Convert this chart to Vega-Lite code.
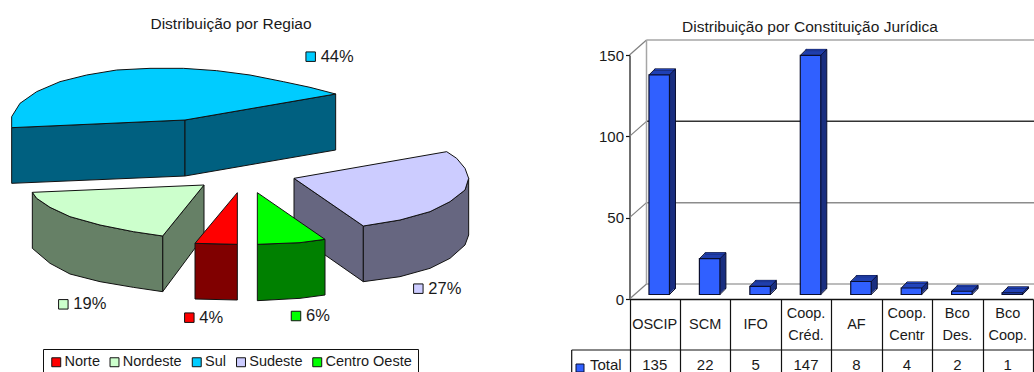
{
  "$schema": "https://vega.github.io/schema/vega-lite/v6.json",
  "autosize": {"type": "pad"},
  "padding": 0,
  "bounds": "flush",
  "spacing": 0,
  "background": "white",
  "config": {"view": {"stroke": null}, "font": "Liberation Sans"},
  "datasets": {
    "regioes": [
      {"regiao": "Sul", "pct": 0.44, "u": 932, "v": 170},
      {"regiao": "Nordeste", "pct": 0.19, "u": 190, "v": 913},
      {"regiao": "Norte", "pct": 0.04, "u": 568, "v": 953},
      {"regiao": "Sudeste", "pct": 0.27, "u": 1255, "v": 866},
      {"regiao": "Centro Oeste", "pct": 0.06, "u": 888, "v": 948}
    ],
    "pizza": [
      {"face": "sul-a", "cor": "Sul lateral", "u": 35, "v": 383},
      {"face": "sul-a", "cor": "Sul lateral", "u": 555, "v": 360},
      {"face": "sul-a", "cor": "Sul lateral", "u": 555, "v": 528},
      {"face": "sul-a", "cor": "Sul lateral", "u": 35, "v": 550},
      {"face": "sul-b", "cor": "Sul lateral", "u": 555, "v": 360},
      {"face": "sul-b", "cor": "Sul lateral", "u": 1007, "v": 282},
      {"face": "sul-b", "cor": "Sul lateral", "u": 1007, "v": 450},
      {"face": "sul-b", "cor": "Sul lateral", "u": 555, "v": 528},
      {"face": "sul-c", "cor": "Sul", "u": 35, "v": 383},
      {"face": "sul-c", "cor": "Sul", "u": 35, "v": 350},
      {"face": "sul-c", "cor": "Sul", "u": 60, "v": 310},
      {"face": "sul-c", "cor": "Sul", "u": 110, "v": 275},
      {"face": "sul-c", "cor": "Sul", "u": 180, "v": 245},
      {"face": "sul-c", "cor": "Sul", "u": 260, "v": 225},
      {"face": "sul-c", "cor": "Sul", "u": 350, "v": 210},
      {"face": "sul-c", "cor": "Sul", "u": 450, "v": 205},
      {"face": "sul-c", "cor": "Sul", "u": 550, "v": 205},
      {"face": "sul-c", "cor": "Sul", "u": 650, "v": 212},
      {"face": "sul-c", "cor": "Sul", "u": 750, "v": 225},
      {"face": "sul-c", "cor": "Sul", "u": 850, "v": 245},
      {"face": "sul-c", "cor": "Sul", "u": 930, "v": 262},
      {"face": "sul-c", "cor": "Sul", "u": 1007, "v": 282},
      {"face": "sul-c", "cor": "Sul", "u": 555, "v": 360},
      {"face": "ne-a", "cor": "Nordeste lateral", "u": 488, "v": 708},
      {"face": "ne-a", "cor": "Nordeste lateral", "u": 612, "v": 555},
      {"face": "ne-a", "cor": "Nordeste lateral", "u": 612, "v": 708},
      {"face": "ne-a", "cor": "Nordeste lateral", "u": 488, "v": 875},
      {"face": "ne-b", "cor": "Nordeste lateral", "u": 97, "v": 577},
      {"face": "ne-b", "cor": "Nordeste lateral", "u": 110, "v": 595},
      {"face": "ne-b", "cor": "Nordeste lateral", "u": 150, "v": 622},
      {"face": "ne-b", "cor": "Nordeste lateral", "u": 210, "v": 650},
      {"face": "ne-b", "cor": "Nordeste lateral", "u": 300, "v": 675},
      {"face": "ne-b", "cor": "Nordeste lateral", "u": 400, "v": 695},
      {"face": "ne-b", "cor": "Nordeste lateral", "u": 488, "v": 708},
      {"face": "ne-b", "cor": "Nordeste lateral", "u": 488, "v": 875},
      {"face": "ne-b", "cor": "Nordeste lateral", "u": 400, "v": 862},
      {"face": "ne-b", "cor": "Nordeste lateral", "u": 300, "v": 845},
      {"face": "ne-b", "cor": "Nordeste lateral", "u": 210, "v": 822},
      {"face": "ne-b", "cor": "Nordeste lateral", "u": 150, "v": 790},
      {"face": "ne-b", "cor": "Nordeste lateral", "u": 97, "v": 745},
      {"face": "ne-c", "cor": "Nordeste", "u": 97, "v": 577},
      {"face": "ne-c", "cor": "Nordeste", "u": 612, "v": 555},
      {"face": "ne-c", "cor": "Nordeste", "u": 488, "v": 708},
      {"face": "ne-c", "cor": "Nordeste", "u": 400, "v": 695},
      {"face": "ne-c", "cor": "Nordeste", "u": 300, "v": 675},
      {"face": "ne-c", "cor": "Nordeste", "u": 210, "v": 650},
      {"face": "ne-c", "cor": "Nordeste", "u": 150, "v": 622},
      {"face": "ne-c", "cor": "Nordeste", "u": 110, "v": 595},
      {"face": "se-a", "cor": "Sudeste lateral", "u": 882, "v": 535},
      {"face": "se-a", "cor": "Sudeste lateral", "u": 1090, "v": 678},
      {"face": "se-a", "cor": "Sudeste lateral", "u": 1090, "v": 845},
      {"face": "se-a", "cor": "Sudeste lateral", "u": 882, "v": 700},
      {"face": "se-b", "cor": "Sudeste lateral", "u": 1090, "v": 678},
      {"face": "se-b", "cor": "Sudeste lateral", "u": 1200, "v": 660},
      {"face": "se-b", "cor": "Sudeste lateral", "u": 1290, "v": 635},
      {"face": "se-b", "cor": "Sudeste lateral", "u": 1350, "v": 605},
      {"face": "se-b", "cor": "Sudeste lateral", "u": 1395, "v": 570},
      {"face": "se-b", "cor": "Sudeste lateral", "u": 1406, "v": 535},
      {"face": "se-b", "cor": "Sudeste lateral", "u": 1406, "v": 705},
      {"face": "se-b", "cor": "Sudeste lateral", "u": 1395, "v": 735},
      {"face": "se-b", "cor": "Sudeste lateral", "u": 1350, "v": 775},
      {"face": "se-b", "cor": "Sudeste lateral", "u": 1290, "v": 805},
      {"face": "se-b", "cor": "Sudeste lateral", "u": 1200, "v": 830},
      {"face": "se-b", "cor": "Sudeste lateral", "u": 1090, "v": 845},
      {"face": "se-c", "cor": "Sudeste", "u": 882, "v": 535},
      {"face": "se-c", "cor": "Sudeste", "u": 1340, "v": 455},
      {"face": "se-c", "cor": "Sudeste", "u": 1370, "v": 475},
      {"face": "se-c", "cor": "Sudeste", "u": 1395, "v": 505},
      {"face": "se-c", "cor": "Sudeste", "u": 1406, "v": 535},
      {"face": "se-c", "cor": "Sudeste", "u": 1395, "v": 570},
      {"face": "se-c", "cor": "Sudeste", "u": 1350, "v": 605},
      {"face": "se-c", "cor": "Sudeste", "u": 1290, "v": 635},
      {"face": "se-c", "cor": "Sudeste", "u": 1200, "v": 660},
      {"face": "se-c", "cor": "Sudeste", "u": 1090, "v": 678},
      {"face": "no-a", "cor": "Norte lateral", "u": 585, "v": 730},
      {"face": "no-a", "cor": "Norte lateral", "u": 712, "v": 733},
      {"face": "no-a", "cor": "Norte lateral", "u": 712, "v": 900},
      {"face": "no-a", "cor": "Norte lateral", "u": 585, "v": 897},
      {"face": "no-b", "cor": "Norte", "u": 712, "v": 578},
      {"face": "no-b", "cor": "Norte", "u": 712, "v": 733},
      {"face": "no-b", "cor": "Norte", "u": 585, "v": 730},
      {"face": "co-a", "cor": "Centro Oeste lateral", "u": 772, "v": 733},
      {"face": "co-a", "cor": "Centro Oeste lateral", "u": 900, "v": 728},
      {"face": "co-a", "cor": "Centro Oeste lateral", "u": 975, "v": 718},
      {"face": "co-a", "cor": "Centro Oeste lateral", "u": 975, "v": 885},
      {"face": "co-a", "cor": "Centro Oeste lateral", "u": 900, "v": 895},
      {"face": "co-a", "cor": "Centro Oeste lateral", "u": 772, "v": 902},
      {"face": "co-b", "cor": "Centro Oeste", "u": 772, "v": 578},
      {"face": "co-b", "cor": "Centro Oeste", "u": 975, "v": 718},
      {"face": "co-b", "cor": "Centro Oeste", "u": 900, "v": 728},
      {"face": "co-b", "cor": "Centro Oeste", "u": 772, "v": 733}
    ],
    "juridica": [
      {"categoria": "OSCIP", "total": 135},
      {"categoria": "SCM", "total": 22},
      {"categoria": "IFO", "total": 5},
      {"categoria": "Coop. Créd.", "total": 147},
      {"categoria": "AF", "total": 8},
      {"categoria": "Coop. Centr", "total": 4},
      {"categoria": "Bco Des.", "total": 2},
      {"categoria": "Bco Coop.", "total": 1}
    ],
    "grade": [
      {"nivel": 0, "cor": "#a6a6a6"},
      {"nivel": 50, "cor": "#8c8c8c"},
      {"nivel": 100, "cor": "#333333"},
      {"nivel": 150, "cor": "#a6a6a6"}
    ],
    "linha_total": [{"nome": "Total", "categoria": "OSCIP", "total": 0}]
  },
  "hconcat": [
    {
      "width": 560,
      "height": 372,
      "title": {"text": "Distribuição por Regiao", "anchor": "middle", "frame": "group", "offset": 0, "dx": -49, "dy": 32, "fontSize": 15.5, "fontWeight": "normal", "font": "Liberation Sans", "color": "#1a1a1a"},
      "encoding": {
        "x": {"field": "u", "type": "quantitative", "scale": {"domain": [0, 1680], "range": [0, 560], "nice": false, "zero": false}, "axis": null},
        "y": {"field": "v", "type": "quantitative", "scale": {"domain": [0, 1116], "range": [0, 372], "nice": false, "zero": false}, "axis": null}
      },
      "layer": [
        {
          "data": {"name": "pizza"},
          "transform": [{"window": [{"op": "row_number", "as": "n"}]}],
          "mark": {"type": "line", "interpolate": "linear-closed", "stroke": "#111111", "strokeWidth": 1},
          "encoding": {
            "detail": {"field": "face"},
            "order": {"field": "n", "type": "quantitative"},
            "fill": {
              "field": "cor",
              "type": "nominal",
              "scale": {
                "domain": ["Norte", "Nordeste", "Sul", "Sudeste", "Centro Oeste", "Norte lateral", "Nordeste lateral", "Sul lateral", "Sudeste lateral", "Centro Oeste lateral"],
                "range": ["#ff0000", "#ccffcc", "#00ccff", "#ccccff", "#00ff00", "#800000", "#668066", "#006080", "#666680", "#008000"]
              }
            }
          }
        },
        {
          "data": {"name": "regioes"},
          "mark": {"type": "square", "size": 90, "opacity": 1, "stroke": "#111111", "strokeWidth": 1},
          "encoding": {
            "fill": {
              "field": "regiao",
              "type": "nominal",
              "legend": {
                "values": ["Norte", "Nordeste", "Sul", "Sudeste", "Centro Oeste"],
                "title": null,
                "orient": "none",
                "legendX": 43,
                "legendY": 349,
                "direction": "horizontal",
                "columns": 5,
                "gridAlign": "none",
                "columnPadding": 7.25,
                "padding": 6,
                "strokeColor": "#111111",
                "fillColor": "#ffffff",
                "labelFont": "Liberation Sans",
                "labelFontSize": 14.5,
                "labelColor": "#1a1a1a",
                "labelOffset": 1,
                "symbolType": "square",
                "symbolSize": 80,
                "symbolStrokeColor": "#111111",
                "symbolStrokeWidth": 1
              }
            }
          }
        },
        {
          "data": {"name": "regioes"},
          "mark": {"type": "text", "align": "left", "baseline": "middle", "dx": 10, "fontSize": 16.5, "color": "#1a1a1a"},
          "encoding": {"text": {"field": "pct", "type": "quantitative", "format": ".0%"}}
        }
      ]
    },
    {
      "width": 474,
      "height": 372,
      "title": {"text": "Distribuição por Constituição Jurídica", "anchor": "middle", "frame": "group", "offset": 0, "dx": 13, "dy": 35, "fontSize": 15.5, "fontWeight": "normal", "font": "Liberation Sans", "color": "#1a1a1a"},
      "data": {"name": "juridica"},
      "encoding": {
        "x": {
          "field": "categoria",
          "type": "nominal",
          "sort": null,
          "scale": {"type": "band", "domain": ["OSCIP", "SCM", "IFO", "Coop. Créd.", "AF", "Coop. Centr", "Bco Des.", "Bco Coop."], "range": [69.5, 473], "paddingInner": 0, "paddingOuter": 0},
          "axis": {"title": null, "labels": false, "orient": "bottom", "offset": -73, "tickBand": "extent", "tickSize": 73, "tickColor": "#111111", "tickWidth": 1.2, "domainColor": "#111111", "domainWidth": 1.5}
        },
        "y": {
          "field": "total",
          "type": "quantitative",
          "scale": {"domain": [0, 150], "range": [299, 55], "nice": false},
          "axis": {"values": [0, 50, 100, 150], "title": null, "grid": false, "offset": -69.5, "tickSize": 4, "tickColor": "#111111", "tickWidth": 1.2, "domainColor": "#111111", "domainWidth": 1.2, "labelFont": "Liberation Sans", "labelFontSize": 15, "labelColor": "#1a1a1a", "labelPadding": 2}
        }
      },
      "layer": [
        {
          "data": {"name": "grade"},
          "mark": {"type": "rule", "xOffset": 17, "x2Offset": 400, "yOffset": -15, "y2Offset": -15, "strokeWidth": 1.5},
          "encoding": {
            "x": {"datum": "OSCIP", "bandPosition": 0},
            "x2": {"datum": "OSCIP"},
            "y": {"field": "nivel", "type": "quantitative"},
            "y2": {"field": "nivel"},
            "color": {"field": "cor", "type": "nominal", "scale": null}
          }
        },
        {
          "data": {"name": "grade"},
          "mark": {"type": "rule", "x2Offset": -8.2, "y2Offset": -15, "stroke": "#7f7f7f", "strokeWidth": 1.2},
          "encoding": {
            "x": {"datum": "OSCIP", "bandPosition": 0},
            "x2": {"datum": "OSCIP"},
            "y": {"field": "nivel", "type": "quantitative"},
            "y2": {"field": "nivel"}
          }
        },
        {
          "data": {"name": "linha_total"},
          "mark": {"type": "rule", "xOffset": 17, "yOffset": -15, "y2Offset": -15, "stroke": "#a6a6a6", "strokeWidth": 1.5},
          "encoding": {
            "x": {"datum": "OSCIP", "bandPosition": 0},
            "y": {"datum": 0},
            "y2": {"datum": 150}
          }
        },
        {"mark": {"type": "bar", "size": 20.5, "xOffset": 10.5, "yOffset": -10.5, "y2Offset": -10.5, "fill": "#1a2f80", "stroke": "#0a0f30", "strokeWidth": 1}},
        {"mark": {"type": "bar", "size": 20.5, "xOffset": 9.5, "yOffset": -9.5, "y2Offset": -9.5, "fill": "#1a2f80"}},
        {"mark": {"type": "bar", "size": 20.5, "xOffset": 8.5, "yOffset": -8.5, "y2Offset": -8.5, "fill": "#1a2f80"}},
        {"mark": {"type": "bar", "size": 20.5, "xOffset": 7.5, "yOffset": -7.5, "y2Offset": -7.5, "fill": "#1a2f80"}},
        {"mark": {"type": "bar", "size": 20.5, "xOffset": 6.5, "yOffset": -6.5, "y2Offset": -6.5, "fill": "#1a2f80"}},
        {"mark": {"type": "bar", "size": 20.5, "xOffset": 5.5, "yOffset": -5.5, "y2Offset": -5.5, "fill": "#1a2f80"}},
        {"mark": {"type": "bar", "size": 20.5, "xOffset": 9.5, "yOffset": -9.5, "y2Offset": -10.5, "fill": "#2244bb"}, "encoding": {"y2": {"field": "total"}}},
        {"mark": {"type": "bar", "size": 20.5, "xOffset": 8.5, "yOffset": -7.5, "y2Offset": -8.5, "fill": "#2244bb"}, "encoding": {"y2": {"field": "total"}}},
        {"mark": {"type": "bar", "size": 20.5, "xOffset": 7.5, "yOffset": -6.5, "y2Offset": -7.5, "fill": "#2244bb"}, "encoding": {"y2": {"field": "total"}}},
        {"mark": {"type": "bar", "size": 20.5, "xOffset": 6.5, "yOffset": -5.5, "y2Offset": -6.5, "fill": "#2244bb"}, "encoding": {"y2": {"field": "total"}}},
        {"mark": {"type": "bar", "size": 20.5, "xOffset": 5.5, "yOffset": -4.5, "y2Offset": -5.5, "fill": "#2244bb"}, "encoding": {"y2": {"field": "total"}}},
        {"mark": {"type": "bar", "size": 20.5, "xOffset": 4.5, "yOffset": -4.5, "y2Offset": -4.5, "fill": "#3060ff", "stroke": "#0a0f30", "strokeWidth": 1.2}},
        {
          "mark": {"type": "rule", "xOffset": 19.5, "x2Offset": 0.3, "yOffset": -4.5, "y2Offset": -10.5, "stroke": "#0a0f30", "strokeWidth": 1},
          "encoding": {
            "x": {"field": "categoria", "type": "nominal", "bandPosition": 0},
            "x2": {"field": "categoria"},
            "y2": {"field": "total"}
          }
        },
        {
          "mark": {"type": "rule", "xOffset": 40, "x2Offset": 20.8, "yOffset": -4.5, "y2Offset": -10.5, "stroke": "#0a0f30", "strokeWidth": 1},
          "encoding": {
            "x": {"field": "categoria", "type": "nominal", "bandPosition": 0},
            "x2": {"field": "categoria"},
            "y2": {"field": "total"}
          }
        },
        {
          "mark": {"type": "rule", "xOffset": 40, "x2Offset": 20.8, "yOffset": -4.5, "y2Offset": -10.5, "stroke": "#0a0f30", "strokeWidth": 1},
          "encoding": {
            "x": {"field": "categoria", "type": "nominal", "bandPosition": 0},
            "x2": {"field": "categoria"},
            "y": {"datum": 0},
            "y2": {"datum": 0}
          }
        },
        {
          "transform": [{"filter": "indexof(datum.categoria, ' ') < 0"}],
          "mark": {"type": "text", "baseline": "middle", "yOffset": 26, "fontSize": 14.5, "color": "#1a1a1a"},
          "encoding": {"y": {"datum": 0}, "text": {"field": "categoria"}}
        },
        {
          "transform": [{"filter": "indexof(datum.categoria, ' ') >= 0"}],
          "mark": {"type": "text", "baseline": "middle", "yOffset": 15, "fontSize": 14.5, "lineBreak": " ", "lineHeight": 22, "color": "#1a1a1a"},
          "encoding": {"y": {"datum": 0}, "text": {"field": "categoria"}}
        },
        {
          "mark": {"type": "text", "baseline": "middle", "yOffset": 66, "fontSize": 15, "color": "#1a1a1a"},
          "encoding": {"y": {"datum": 0}, "text": {"field": "total", "type": "quantitative"}}
        },
        {
          "data": {"name": "linha_total"},
          "mark": {"type": "rule", "xOffset": -57.8, "x2Offset": 26, "yOffset": 51, "stroke": "#111111", "strokeWidth": 1.2},
          "encoding": {
            "x": {"datum": "OSCIP", "bandPosition": 0},
            "x2": {"datum": "Bco Coop."},
            "y": {"datum": 0}
          }
        },
        {
          "data": {"name": "linha_total"},
          "mark": {"type": "rule", "xOffset": -57.8, "yOffset": 51, "y2Offset": 73, "stroke": "#111111", "strokeWidth": 1.2},
          "encoding": {
            "x": {"datum": "OSCIP", "bandPosition": 0},
            "y": {"datum": 0},
            "y2": {"datum": 0}
          }
        },
        {
          "data": {"name": "linha_total"},
          "mark": {"type": "square", "size": 64, "opacity": 1, "xOffset": -49.5, "yOffset": 69, "fill": "#3060ff", "stroke": "#0a0f30", "strokeWidth": 1},
          "encoding": {
            "x": {"datum": "OSCIP", "bandPosition": 0},
            "y": {"datum": 0}
          }
        },
        {
          "data": {"name": "linha_total"},
          "mark": {"type": "text", "align": "left", "baseline": "middle", "xOffset": -39.5, "yOffset": 66, "fontSize": 15, "color": "#1a1a1a"},
          "encoding": {
            "x": {"datum": "OSCIP", "bandPosition": 0},
            "y": {"datum": 0},
            "text": {"field": "nome"}
          }
        }
      ]
    }
  ]
}
